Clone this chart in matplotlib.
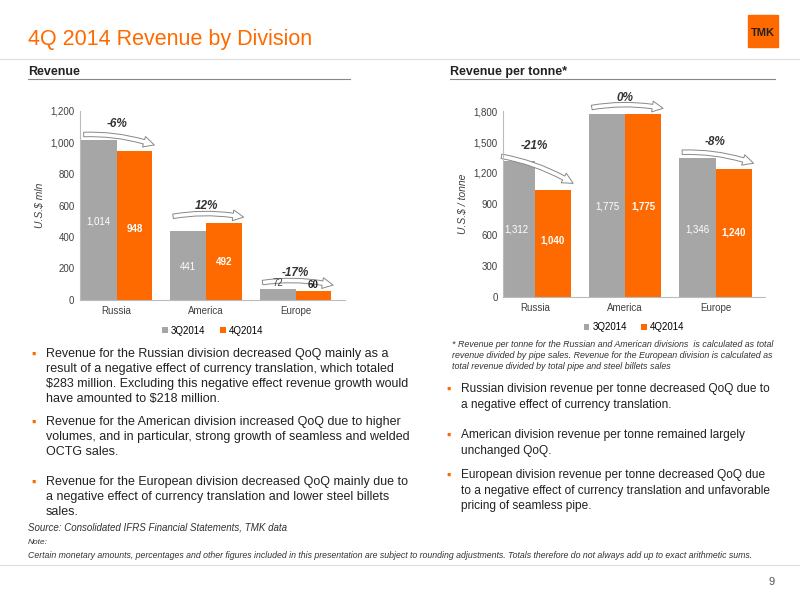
import matplotlib
matplotlib.use("Agg")
import matplotlib.pyplot as plt
import numpy as np
from matplotlib.patches import FancyArrowPatch, Rectangle

plt.rcParams['font.family'] = ['Liberation Sans', 'DejaVu Sans']

categories = ["Russia", "America", "Europe"]
rev_3q = [1014, 441, 72]
rev_4q = [948, 492, 60]
rev_chg = ["-6%", "12%", "-17%"]
tonne_3q = [1312, 1775, 1346]
tonne_4q = [1040, 1775, 1240]
tonne_chg = ["-21%", "0%", "-8%"]

GREY = "#A6A6A6"
ORANGE = "#FF6A00"
TXT = "#404040"

fig = plt.figure(figsize=(8, 6), dpi=100)

fig.text(28/800, 1-40/600, "4Q 2014 Revenue by Division", color=ORANGE, fontsize=15.5, va="center")
fig.add_artist(Rectangle((748/800, 1-47/600), 30/800, 32/600, color=ORANGE, transform=fig.transFigure))
fig.text(763/800, 1-33/600, "TMK", color="#222222", fontsize=8, fontweight="bold", ha="center", va="center")
fig.add_artist(plt.Line2D([0, 1], [1-59/600]*2, color="#DDDDDD", lw=0.8, transform=fig.transFigure))

fig.text(28/800, 1-72/600, "Revenue", fontsize=9, fontweight="bold", color="#222222", va="center")
fig.add_artist(plt.Line2D([28/800, 350/800], [1-79/600]*2, color="#888888", lw=0.8, transform=fig.transFigure))
fig.text(450/800, 1-72/600, "Revenue per tonne*", fontsize=9, fontweight="bold", color="#222222", va="center")
fig.add_artist(plt.Line2D([450/800, 775/800], [1-79/600]*2, color="#888888", lw=0.8, transform=fig.transFigure))


def draw(ax, a, b, chg, ymax, step, ylabel, arrows, xlim):
    x = np.arange(len(categories))
    w = 0.4
    ax.bar(x - w/2, a, w, color=GREY, label="3Q2014")
    ax.bar(x + w/2, b, w, color=ORANGE, label="4Q2014")
    ax.set_ylim(0, ymax)
    ax.set_xlim(*xlim)
    ax.set_yticks(np.arange(0, ymax + 1, step))
    ax.set_yticklabels([f"{v:,}" for v in np.arange(0, ymax + 1, step)], fontsize=7, color=TXT)
    ax.set_xticks(x)
    ax.set_xticklabels(categories, fontsize=7, color=TXT)
    ax.tick_params(length=0, pad=4)
    for s in ["top", "right"]:
        ax.spines[s].set_visible(False)
    ax.spines["left"].set_color("#BBBBBB")
    ax.spines["bottom"].set_color("#BBBBBB")
    ax.set_ylabel(ylabel, fontsize=7.5, style="italic", color=TXT)
    for i in range(len(categories)):
        ya, yb = arrows[i]
        ax.text(x[i] - w/2, ya, f"{a[i]:,}", ha="center", va="center", fontsize=7, color="white" if a[i] > ymax*0.1 else TXT)
        ax.text(x[i] + w/2, yb, f"{b[i]:,}", ha="center", va="center", fontsize=7, fontweight="bold",
                color="white" if b[i] > ymax*0.1 else "#222222")
        top = max(a[i], b[i])
        arr = FancyArrowPatch((x[i] - 0.4, top + ymax*0.03), (x[i] + 0.45, b[i] + ymax*0.025),
                              arrowstyle="simple,head_width=6,head_length=6,tail_width=2.5",
                              connectionstyle="arc3,rad=-0.1", fc="white", ec="#888888", lw=0.7,
                              mutation_scale=1.3, clip_on=False)
        ax.add_patch(arr)
        ax.text(x[i], top + ymax*0.085, chg[i], ha="center", va="center", fontsize=8.5,
                fontweight="bold", style="italic", color="#333333")
    ax.legend(loc="upper center", bbox_to_anchor=(0.5, -0.09), ncol=2, frameon=False, fontsize=7,
              handlelength=0.6, handleheight=0.6, columnspacing=1.5, handletextpad=0.3)


ax1 = fig.add_axes([0.1, 0.5, 0.331, 0.315])
draw(ax1, rev_3q, rev_4q, rev_chg, 1200, 200, "U.S.$ mln",
     [(500, 450), (210, 240), (105, 95)], (-0.41, 2.55))
ax2 = fig.add_axes([0.629, 0.505, 0.3275, 0.31])
draw(ax2, tonne_3q, tonne_4q, tonne_chg, 1800, 300, "U.S.$ / tonne",
     [(650, 550), (880, 880), (650, 620)], (-0.35, 2.55))

left_bullets = [
    (355, "Revenue for the Russian division decreased QoQ mainly as a\nresult of a negative effect of currency translation, which totaled\n$283 million. Excluding this negative effect revenue growth would\nhave amounted to $218 million."),
    (423, "Revenue for the American division increased QoQ due to higher\nvolumes, and in particular, strong growth of seamless and welded\nOCTG sales."),
    (483, "Revenue for the European division decreased QoQ mainly due to\na negative effect of currency translation and lower steel billets\nsales."),
]
for y, t in left_bullets:
    fig.text(31/800, 1-y/600, "\u25aa", color=ORANGE, fontsize=9, va="center")
    fig.text(46/800, 1-(y-7)/600, t, fontsize=9, color="#222222", va="top", linespacing=1.35)

right_bullets = [
    (390, "Russian division revenue per tonne decreased QoQ due to\na negative effect of currency translation."),
    (436, "American division revenue per tonne remained largely\nunchanged QoQ."),
    (476, "European division revenue per tonne decreased QoQ due\nto a negative effect of currency translation and unfavorable\npricing of seamless pipe."),
]
for y, t in right_bullets:
    fig.text(446/800, 1-y/600, "\u25aa", color=ORANGE, fontsize=9, va="center")
    fig.text(461/800, 1-(y-7)/600, t, fontsize=8.6, color="#222222", va="top", linespacing=1.4)

fig.text(452/800, 1-340/600,
         "* Revenue per tonne for the Russian and American divisions  is calculated as total\n"
         "revenue divided by pipe sales. Revenue for the European division is calculated as\n"
         "total revenue divided by total pipe and steel billets sales",
         fontsize=6.4, style="italic", color="#333333", va="top", linespacing=1.3)

fig.text(28/800, 1-527/600, "Source: Consolidated IFRS Financial Statements, TMK data",
         fontsize=7, style="italic", color="#333333", va="center")
fig.text(28/800, 1-543/600, "Note:", fontsize=6, style="italic", color="#333333", va="center")
fig.text(28/800, 1-555/600,
         "Certain monetary amounts, percentages and other figures included in this presentation are subject to rounding adjustments. Totals therefore do not always add up to exact arithmetic sums.",
         fontsize=6.3, style="italic", color="#333333", va="center")
fig.add_artist(plt.Line2D([0, 1], [1-565/600]*2, color="#DDDDDD", lw=0.8, transform=fig.transFigure))
fig.text(775/800, 1-582/600, "9", fontsize=8, color="#555555", ha="right", va="center")

fig.savefig("out.png", dpi=100)
